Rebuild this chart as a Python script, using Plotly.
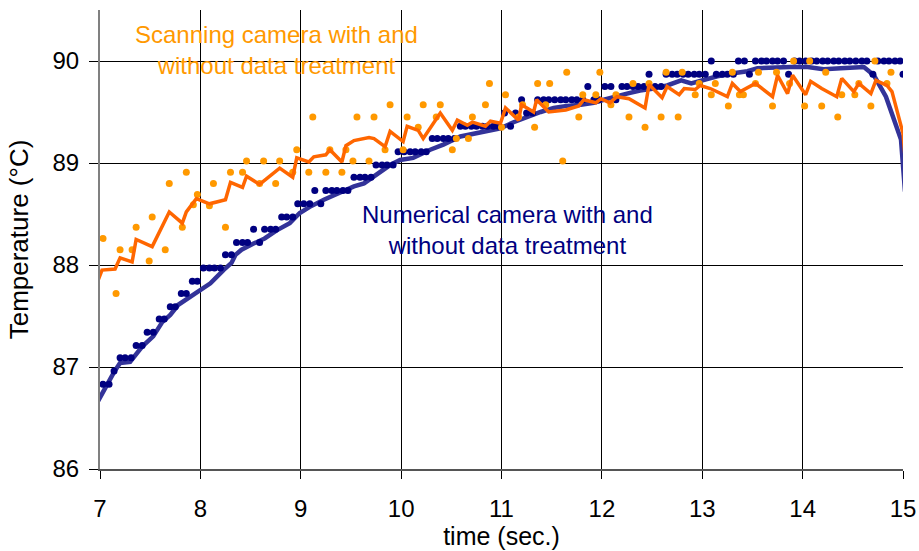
import plotly.graph_objects as go

# ---------------- data ----------------
# Numerical camera, without data treatment (dots)
num_raw_t = [7.03, 7.09, 7.14, 7.20, 7.25, 7.31, 7.36, 7.42, 7.47, 7.53,
             7.59, 7.64, 7.70, 7.75, 7.81, 7.86, 7.92, 7.97, 8.03, 8.09,
             8.14, 8.20, 8.25, 8.31, 8.36, 8.42, 8.47, 8.53, 8.59, 8.64,
             8.70, 8.75, 8.81, 8.86, 8.92, 8.97, 9.03, 9.09, 9.14, 9.20,
             9.25, 9.31, 9.36, 9.42, 9.47, 9.53, 9.59, 9.64, 9.70, 9.75,
             9.81, 9.86, 9.92, 9.97, 10.03, 10.09, 10.14, 10.20, 10.25, 10.31,
             10.36, 10.42, 10.47, 10.53, 10.59, 10.64, 10.70, 10.75, 10.81, 10.86,
             10.92, 10.97, 11.03, 11.09, 11.14, 11.20, 11.25, 11.31, 11.36, 11.42,
             11.47, 11.53, 11.59, 11.64, 11.70, 11.75, 11.81, 11.86, 11.92, 11.97,
             12.03, 12.09, 12.14, 12.20, 12.25, 12.31, 12.36, 12.42, 12.47, 12.53,
             12.59, 12.64, 12.70, 12.75, 12.81, 12.86, 12.92, 12.97, 13.03, 13.09,
             13.14, 13.20, 13.25, 13.31, 13.36, 13.42, 13.47, 13.53, 13.59, 13.64,
             13.70, 13.75, 13.81, 13.86, 13.92, 13.97, 14.03, 14.09, 14.14, 14.20,
             14.25, 14.31, 14.36, 14.42, 14.47, 14.53, 14.59, 14.64, 14.70, 14.75,
             14.81, 14.86, 14.92, 14.97, 15.00]
num_raw_T = [86.83, 86.83, 86.96, 87.09, 87.09, 87.09, 87.21, 87.21, 87.34, 87.34,
             87.47, 87.47, 87.59, 87.59, 87.72, 87.72, 87.84, 87.84, 87.97, 87.97,
             87.97, 87.97, 88.10, 88.10, 88.22, 88.22, 88.22, 88.35, 88.22, 88.35,
             88.35, 88.35, 88.47, 88.47, 88.47, 88.60, 88.60, 88.60, 88.73, 88.60,
             88.73, 88.73, 88.73, 88.73, 88.73, 88.86, 88.86, 88.86, 88.86, 88.98,
             88.98, 88.98, 88.98, 89.11, 89.11, 89.11, 89.11, 89.11, 89.11, 89.24,
             89.24, 89.24, 89.24, 89.24, 89.36, 89.36, 89.36, 89.36, 89.36, 89.36,
             89.36, 89.36, 89.49, 89.36, 89.49, 89.62, 89.49, 89.49, 89.62, 89.62,
             89.62, 89.62, 89.62, 89.62, 89.62, 89.62, 89.62, 89.75, 89.62, 89.62,
             89.75, 89.75, 89.62, 89.75, 89.75, 89.75, 89.75, 89.75, 89.87, 89.75,
             89.75, 89.87, 89.87, 89.87, 89.87, 89.87, 89.87, 89.87, 89.87, 90.00,
             89.87, 89.87, 89.87, 89.87, 90.00, 90.00, 89.87, 90.00, 90.00, 90.00,
             90.00, 90.00, 90.00, 89.87, 90.00, 90.00, 90.00, 90.00, 90.00, 90.00,
             90.00, 90.00, 90.00, 90.00, 90.00, 90.00, 90.00, 90.00, 89.87, 90.00,
             90.00, 90.00, 90.00, 90.00, 89.87]

# Numerical camera, with data treatment (line)
num_trt_t = [6.96, 7.03, 7.14, 7.20, 7.30, 7.42, 7.53, 7.62, 7.70, 7.78,
             7.90, 8.00, 8.10, 8.23, 8.31, 8.35, 8.41, 8.53, 8.64, 8.76,
             8.89, 8.99, 9.09, 9.23, 9.36, 9.53, 9.63, 9.73, 9.82, 9.89,
             9.99, 10.12, 10.29, 10.42, 10.59, 10.76, 10.92, 10.99, 11.12, 11.25,
             11.39, 11.52, 11.65, 11.79, 11.92, 12.02, 12.12, 12.25, 12.38, 12.52,
             12.65, 12.79, 12.89, 13.00, 13.15, 13.31, 13.45, 13.55, 13.71, 13.88,
             14.05, 14.21, 14.38, 14.58, 14.61, 14.71, 14.83, 14.98, 15.02]
num_trt_T = [86.63, 86.76, 86.95, 87.04, 87.05, 87.20, 87.30, 87.44, 87.51, 87.61,
             87.69, 87.75, 87.82, 87.95, 88.02, 88.10, 88.15, 88.21, 88.26, 88.34,
             88.41, 88.51, 88.57, 88.64, 88.70, 88.77, 88.80, 88.87, 88.93, 88.98,
             89.03, 89.05, 89.13, 89.18, 89.26, 89.29, 89.32, 89.34, 89.40, 89.45,
             89.50, 89.54, 89.56, 89.57, 89.59, 89.62, 89.65, 89.68, 89.71, 89.73,
             89.76, 89.81, 89.78, 89.81, 89.85, 89.88, 89.90, 89.93, 89.94, 89.94,
             89.94, 89.92, 89.93, 89.93, 89.94, 89.86, 89.65, 89.23, 88.72]

# Scanning camera, without data treatment (dots)
scan_raw_t = [7.03, 7.16, 7.20, 7.32, 7.36, 7.49, 7.52, 7.65, 7.69, 7.82,
              7.86, 7.93, 7.97, 8.09, 8.13, 8.25, 8.30, 8.42, 8.46, 8.59,
              8.63, 8.75, 8.79, 8.92, 8.96, 9.08, 9.12, 9.25, 9.29, 9.41,
              9.45, 9.52, 9.56, 9.68, 9.73, 9.84, 9.89, 10.02, 10.06, 10.17,
              10.22, 10.35, 10.39, 10.51, 10.55, 10.67, 10.71, 10.84, 10.88, 11.00,
              11.04, 11.17, 11.21, 11.33, 11.36, 11.44, 11.48, 11.61, 11.65, 11.77,
              11.81, 11.94, 11.98, 12.09, 12.14, 12.27, 12.31, 12.43, 12.47, 12.59,
              12.64, 12.76, 12.80, 12.93, 12.97, 13.09, 13.13, 13.26, 13.30, 13.37,
              13.41, 13.53, 13.56, 13.70, 13.74, 13.87, 13.91, 14.02, 14.07, 14.19,
              14.23, 14.35, 14.39, 14.52, 14.56, 14.68, 14.72, 14.84, 14.88]
scan_raw_T = [88.26, 87.72, 88.15, 88.15, 88.37, 88.04, 88.47, 88.15, 88.80, 88.37,
              88.91, 88.59, 88.69, 88.58, 88.80, 88.37, 88.91, 88.91, 89.02, 88.80,
              89.02, 88.80, 89.02, 88.91, 89.13, 88.91, 89.45, 88.91, 89.13, 88.91,
              89.13, 89.02, 89.45, 89.02, 89.45, 89.13, 89.57, 89.13, 89.45, 89.35,
              89.57, 89.45, 89.57, 89.13, 89.24, 89.24, 89.45, 89.57, 89.78, 89.35,
              89.67, 89.45, 89.57, 89.35, 89.78, 89.57, 89.78, 89.02, 89.89, 89.45,
              89.67, 89.67, 89.89, 89.57, 89.67, 89.45, 89.78, 89.35, 89.78, 89.45,
              89.89, 89.45, 89.89, 89.67, 89.78, 89.67, 89.78, 89.56, 89.89, 89.67,
              89.67, 89.78, 89.89, 89.56, 89.89, 89.78, 90.00, 89.56, 90.00, 89.56,
              89.89, 89.45, 89.67, 89.67, 89.78, 89.56, 90.00, 89.78, 89.89]

# Scanning camera, with data treatment (line)
scan_trt_t = [6.97, 7.02, 7.15, 7.20, 7.32, 7.36, 7.52, 7.69, 7.82, 7.86,
              7.96, 8.09, 8.25, 8.30, 8.42, 8.46, 8.59, 8.79, 8.92, 8.96,
              9.08, 9.13, 9.25, 9.29, 9.41, 9.45, 9.53, 9.68, 9.73, 9.84,
              9.89, 10.02, 10.06, 10.17, 10.22, 10.39, 10.51, 10.56, 10.66, 10.71,
              10.84, 10.89, 10.99, 11.04, 11.17, 11.20, 11.32, 11.35, 11.47, 11.64,
              11.77, 11.82, 11.94, 11.99, 12.08, 12.15, 12.27, 12.43, 12.47, 12.60,
              12.65, 12.77, 12.82, 12.93, 12.98, 13.08, 13.25, 13.30, 13.38, 13.53,
              13.70, 13.75, 13.85, 13.90, 14.03, 14.08, 14.19, 14.34, 14.39, 14.51,
              14.56, 14.68, 14.73, 14.84, 14.89, 15.00, 15.02]
scan_trt_T = [87.82, 87.95, 87.96, 88.07, 88.03, 88.25, 88.18, 88.52, 88.41, 88.52,
              88.65, 88.60, 88.64, 88.81, 88.76, 88.87, 88.79, 88.95, 88.86, 89.05,
              89.01, 89.06, 89.08, 89.13, 89.01, 89.17, 89.22, 89.25, 89.24, 89.16,
              89.31, 89.21, 89.36, 89.32, 89.24, 89.49, 89.32, 89.42, 89.37, 89.40,
              89.36, 89.41, 89.39, 89.54, 89.42, 89.57, 89.50, 89.62, 89.50, 89.52,
              89.56, 89.62, 89.59, 89.63, 89.59, 89.65, 89.63, 89.54, 89.77, 89.64,
              89.75, 89.67, 89.73, 89.72, 89.76, 89.73, 89.65, 89.78, 89.70, 89.78,
              89.65, 89.86, 89.68, 89.86, 89.67, 89.80, 89.73, 89.65, 89.83, 89.70,
              89.78, 89.68, 89.81, 89.76, 89.70, 89.29, 89.06]

x_ticks = [7, 8, 9, 10, 11, 12, 13, 14, 15]
y_ticks = [86, 87, 88, 89, 90]

FONT = "Liberation Sans, Arial, sans-serif"

fig = go.Figure()
fig.add_trace(go.Scatter(x=num_trt_t, y=num_trt_T, mode="lines",
                         line=dict(color="#333399", width=4.5), showlegend=False))
fig.add_trace(go.Scatter(x=num_raw_t, y=num_raw_T, mode="markers",
                         marker=dict(color="#000080", size=7), showlegend=False))
fig.add_trace(go.Scatter(x=scan_raw_t, y=scan_raw_T, mode="markers",
                         marker=dict(color="#FF9900", size=7), showlegend=False))
fig.add_trace(go.Scatter(x=scan_trt_t, y=scan_trt_T, mode="lines",
                         line=dict(color="#FF6600", width=3.5), showlegend=False))

# white boxes behind the labels (cover the grid)
boxes = [(0.0212, 0.8148, 0.4209, 0.9782), (0.3088, 0.4227, 0.7073, 0.5904)]
for x0, y0, x1, y1 in boxes:
    fig.add_shape(type="rect", xref="paper", yref="paper", x0=x0, y0=y0, x1=x1, y1=y1,
                  fillcolor="white", line=dict(width=0), layer="between")

fig.add_annotation(xref="paper", yref="paper", x=0.2204, y=0.912,
                   text="Scanning camera with and<br>without data treatment",
                   showarrow=False, font=dict(color="#FF9900", size=24, family=FONT),
                   xanchor="center", yanchor="middle")
fig.add_annotation(xref="paper", yref="paper", x=0.5075, y=0.521,
                   text="Numerical camera with and<br>without data treatment",
                   showarrow=False, font=dict(color="#000080", size=24, family=FONT),
                   xanchor="center", yanchor="middle")

fig.update_layout(
    width=919, height=551,
    margin=dict(l=100, r=16, t=10, b=82),
    paper_bgcolor="white", plot_bgcolor="white",
    font=dict(family=FONT, color="black", size=24),
)
fig.update_xaxes(range=[7, 15], tickvals=x_ticks, ticktext=[str(v) for v in x_ticks],
                 showgrid=True, gridcolor="black", gridwidth=1,
                 showline=True, linecolor="#555555", linewidth=1.5,
                 ticks="outside", ticklen=8, tickcolor="black", tickwidth=1,
                 zeroline=False, tickfont=dict(size=24), ticklabelstandoff=9,
                 automargin=False,
                 title=dict(text="time (sec.)", font=dict(size=25), standoff=3))
fig.update_yaxes(range=[86, 90.5], tickvals=y_ticks, ticktext=[str(v) for v in y_ticks],
                 showgrid=True, gridcolor="black", gridwidth=1,
                 showline=True, linecolor="#808080", linewidth=2,
                 ticks="outside", ticklen=9, tickcolor="black", tickwidth=1,
                 zeroline=False, tickfont=dict(size=24), ticklabelstandoff=5,
                 automargin=False,
                 title=dict(text="Temperature (°C)", font=dict(size=26), standoff=16))

fig.write_html("out.html", config={"displayModeBar": False},
               post_script="document.body.style.margin='0';document.body.style.padding='0';")
